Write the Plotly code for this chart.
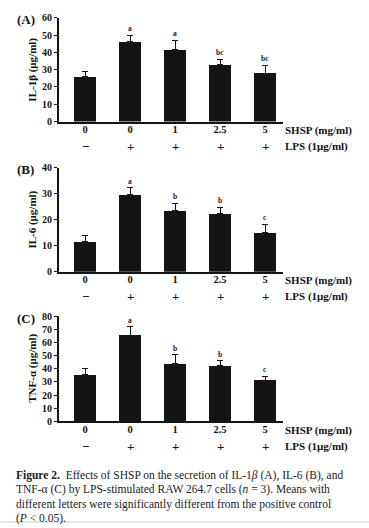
import plotly.graph_objects as go

# ---- data ----
shsp_labels = ["0", "0", "1", "2.5", "5"]
lps_labels = ["\u2212", "+", "+", "+", "+"]
x_pos = [0, 1, 2, 3, 4]

il1b_mean = [25.8, 46.4, 41.7, 32.9, 28.0]
il1b_err = [3.2, 3.4, 5.3, 3.1, 4.5]
il1b_letters = ["", "a", "a", "bc", "bc"]

il6_mean = [11.5, 29.6, 23.6, 22.4, 15.2]
il6_err = [2.4, 2.6, 2.7, 2.4, 3.1]
il6_letters = ["", "a", "b", "b", "c"]

tnf_mean = [35.4, 65.6, 43.8, 42.3, 31.4]
tnf_err = [4.5, 6.2, 6.7, 3.7, 2.8]
tnf_letters = ["", "a", "b", "b", "c"]

panels = [
    dict(label="(A)", title="IL-1\u03b2 (\u03bcg/ml)", mean=il1b_mean, err=il1b_err,
         letters=il1b_letters, ymax=60, dtick=10, top=12, bottom=118),
    dict(label="(B)", title="IL-6 (\u03bcg/ml)", mean=il6_mean, err=il6_err,
         letters=il6_letters, ymax=40, dtick=10, top=165, bottom=271.3),
    dict(label="(C)", title="TNF-\u03b1 (\u03bcg/ml)", mean=tnf_mean, err=tnf_err,
         letters=tnf_letters, ymax=80, dtick=10, top=316.7, bottom=424.3),
]

W, H = 369, 528
SERIF = "Liberation Serif, Times New Roman, serif"
INK = "#141414"

fig = go.Figure()
annotations = []
layout = {}

for i, p in enumerate(panels):
    n = "" if i == 0 else str(i + 1)
    xa, ya = "x" + n, "y" + n
    fig.add_trace(go.Bar(
        x=x_pos, y=p["mean"], xaxis=xa, yaxis=ya, width=0.49,
        marker=dict(color=INK, line=dict(width=0)),
        error_y=dict(type="data", array=p["err"], arrayminus=[0] * 5, symmetric=False,
                     color=INK, thickness=1, width=3),
        showlegend=False, hoverinfo="skip",
    ))
    dom_y = [1 - p["bottom"] / H, 1 - p["top"] / H]
    layout["xaxis" + n] = dict(
        domain=[59 / W, 283 / W], range=[-0.58, 4.4], anchor=ya,
        showline=True, linewidth=2, linecolor=INK, ticks="",
        tickvals=x_pos, ticktext=shsp_labels, ticklabelstandoff=-3,
        tickfont=dict(family=SERIF, size=10.5, color=INK, weight="bold"),
        showgrid=False, zeroline=False, fixedrange=True,
    )
    layout["yaxis" + n] = dict(
        domain=dom_y, range=[0, p["ymax"]], anchor=xa,
        showline=True, linewidth=2, linecolor=INK,
        ticks="outside", ticklen=3, tickwidth=1, tickcolor=INK, dtick=p["dtick"],
        tickfont=dict(family=SERIF, size=10, color=INK, weight="bold"),
        showgrid=False, zeroline=False, fixedrange=True,
    )
    # significance letters
    for xi, m, e, l in zip(x_pos, p["mean"], p["err"], p["letters"]):
        if l:
            annotations.append(dict(x=xi, y=m + e, xref=xa, yref=ya, text=l, showarrow=False,
                                    yanchor="bottom", yshift=0,
                                    font=dict(family=SERIF, size=7.5, color="#222222", weight="bold")))
    # LPS row
    for xi, l in zip(x_pos, lps_labels):
        annotations.append(dict(x=xi, y=0, xref=xa, yref=ya, text=l, showarrow=False,
                                yanchor="middle", yshift=-25,
                                font=dict(family=SERIF, size=13, color=INK, weight="bold")))
    # row labels
    annotations.append(dict(x=283 / W, y=0, xref="paper", yref=ya, text="SHSP (mg/ml)",
                            showarrow=False, xanchor="left", yanchor="middle", yshift=-9,
                            font=dict(family=SERIF, size=11, color=INK, weight="bold")))
    annotations.append(dict(x=283 / W, y=0, xref="paper", yref=ya, text="LPS (1\u03bcg/ml)",
                            showarrow=False, xanchor="left", yanchor="middle", yshift=-25,
                            font=dict(family=SERIF, size=11, color=INK, weight="bold")))
    # panel label
    annotations.append(dict(x=15 / W, y=1 - (p["top"] + 2) / H, xref="paper", yref="paper",
                            text=p["label"], showarrow=False, xanchor="left", yanchor="middle",
                            font=dict(family=SERIF, size=13, color=INK, weight="bold")))
    # y title
    annotations.append(dict(x=33 / W, y=(dom_y[0] + dom_y[1]) / 2, xref="paper", yref="paper",
                            text=p["title"], showarrow=False, textangle=-90,
                            xanchor="center", yanchor="middle",
                            font=dict(family=SERIF, size=11, color=INK, weight="bold")))

caption = [
    "<b>Figure 2.</b>  Effects of SHSP on the secretion of IL-1<i>\u03b2</i> (A), IL-6 (B), and",
    "TNF-\u03b1 (C) by LPS-stimulated RAW 264.7 cells (<i>n</i> = 3). Means with",
    "different letters were significantly different from the positive control",
    "(<i>P</i> &lt; 0.05).",
]
cap_y = [479, 494, 509, 523]
for t, yy in zip(caption, cap_y):
    annotations.append(dict(x=14 / W, y=1 - yy / H, xref="paper", yref="paper", text=t,
                            showarrow=False, xanchor="left", yanchor="middle",
                            font=dict(family=SERIF, size=11.5, color="#222222")))

fig.update_layout(
    width=W, height=H, margin=dict(l=0, r=0, t=0, b=0),
    paper_bgcolor="white", plot_bgcolor="white",
    annotations=annotations, bargap=0, **layout,
    shapes=[dict(type="line", xref="paper", yref="paper", x0=0, x1=1,
                 y0=1 - 527 / H, y1=1 - 527 / H, line=dict(color="#cccccc", width=1))],
)

fig.write_html("out.html", config={"displayModeBar": False},
               post_script="document.body.style.margin='0';document.body.style.padding='0';document.body.style.overflow='hidden';")
